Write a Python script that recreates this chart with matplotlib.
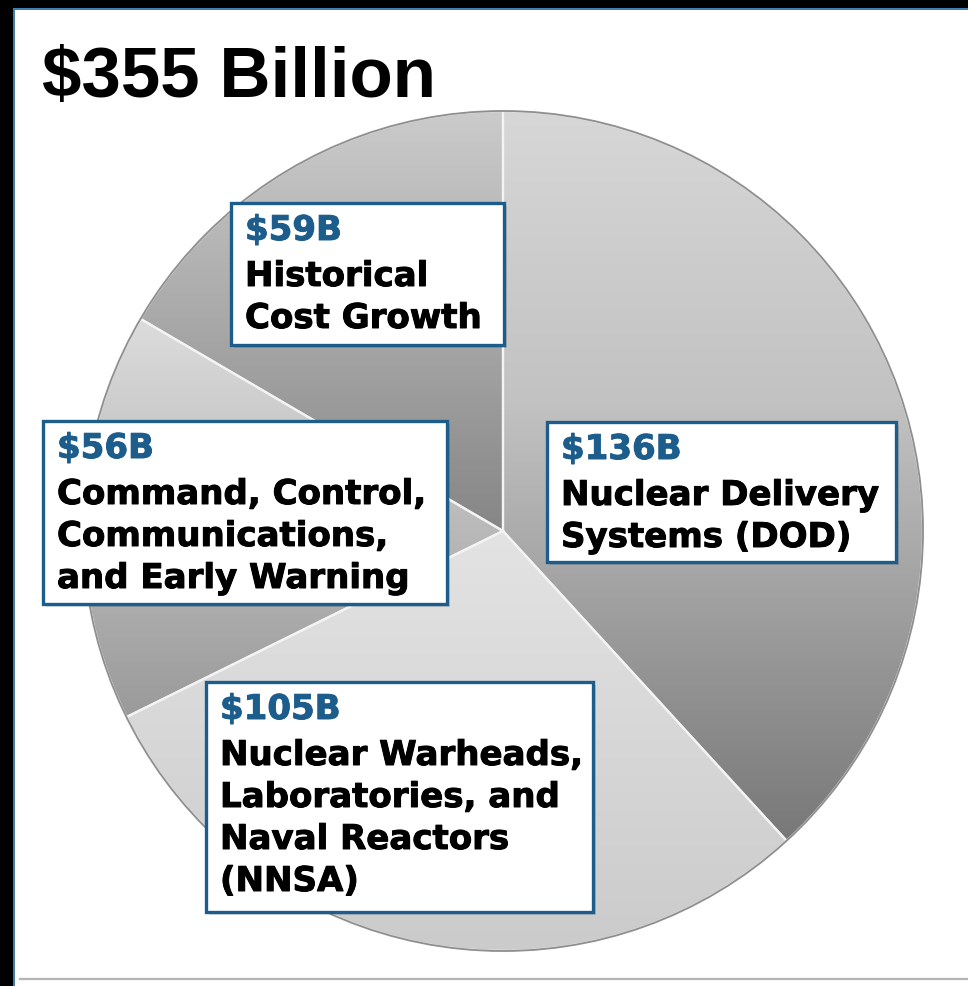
import numpy as np
import matplotlib
matplotlib.use('Agg')
import matplotlib.pyplot as plt
import matplotlib.patheffects as pe
from matplotlib.colors import LinearSegmentedColormap
from matplotlib.patches import Rectangle, Circle

W, H = 968, 987

# ---- data ----
title = "$355 Billion"
values = [136, 105, 56, 59]
value_labels = ["$136B", "$105B", "$56B", "$59B"]
category_labels = [
    ["Nuclear Delivery", "Systems (DOD)"],
    ["Nuclear Warheads,", "Laboratories, and", "Naval Reactors", "(NNSA)"],
    ["Command, Control,", "Communications,", "and Early Warning"],
    ["Historical", "Cost Growth"],
]

# ---- style ----
slice_gradients = [
    [(0.0, '#d7d7d7'), (0.4, '#c2c2c2'), (1.0, '#787878')],
    [(0.0, '#e3e3e3'), (1.0, '#cbcbcb')],
    [(0.0, '#dcdcdc'), (1.0, '#9a9a9a')],
    [(0.0, '#cbcbcb'), (1.0, '#868686')],
]
# label boxes in pixel coords (left, top, right, bottom)
boxes = [(547, 423, 896, 563), (206, 683, 593, 913),
         (43, 422, 447, 605), (231, 204, 504, 346)]
blue = '#1d5d8c'
pie_center = (503, H - 532)
pie_radius = 420

fig = plt.figure(figsize=(W / 100, H / 100), dpi=100)
fig.patch.set_facecolor('white')
ax = fig.add_axes([0, 0, 1, 1])

wedges, _ = ax.pie(values, startangle=90, counterclock=False,
                   center=pie_center, radius=pie_radius,
                   wedgeprops=dict(edgecolor='#f4f4f4', linewidth=1.6))

grad = np.linspace(0, 1, 256).reshape(-1, 1)
for w, stops in zip(wedges, slice_gradients):
    w.set_facecolor('none')
    w.set_zorder(1.5)
    bb = w.get_path().get_extents()
    cmap = LinearSegmentedColormap.from_list('g', stops)
    im = ax.imshow(grad, cmap=cmap, extent=(bb.x0, bb.x1, bb.y0, bb.y1),
                   origin='upper', aspect='auto', zorder=1,
                   interpolation='bilinear')
    im.set_clip_path(w)

ax.add_patch(Circle(pie_center, pie_radius, fill=False,
                    edgecolor='#8e8e8e', lw=1.3, zorder=2))

for (l, t, r, b), val, lines in zip(boxes, value_labels, category_labels):
    # faint shadow
    ax.add_patch(Rectangle((l + 3, H - b - 3), r - l, b - t, facecolor='#000000',
                           alpha=0.12, edgecolor='none', zorder=2.5))
    ax.add_patch(Rectangle((l, H - b), r - l, b - t, facecolor='white',
                           edgecolor=blue, lw=2.4, zorder=3))
    ax.text(l + 14, H - (t + 37), val, fontsize=24.5, fontweight='bold',
            family='DejaVu Sans', color=blue, va='baseline', ha='left', zorder=4,
            path_effects=[pe.withStroke(linewidth=0.7, foreground=blue)])
    for i, line in enumerate(lines):
        ax.text(l + 14, H - (t + 37 + 46 + 42 * i), line, fontsize=24.5,
                fontweight='bold', family='DejaVu Sans', color='black',
                va='baseline', ha='left', zorder=4,
                path_effects=[pe.withStroke(linewidth=0.7, foreground='black')])

ax.text(42, H - 97, title, fontsize=51, fontweight='bold',
        family='Liberation Sans', color='black', va='baseline', ha='left', zorder=4)

# frame
ax.add_patch(Rectangle((0, 0), 12.5, H, facecolor='black', edgecolor='none', zorder=6))
ax.add_patch(Rectangle((0, H - 9), W, 9, facecolor='black', edgecolor='none', zorder=6))
ax.add_patch(Rectangle((12.5, 0), 2, H - 9, facecolor='#3f7fae', edgecolor='none', zorder=6))
ax.add_patch(Rectangle((12.5, H - 11), W, 2, facecolor='#3f7fae', edgecolor='none', zorder=6))
ax.plot([20, W], [H - 980, H - 980], color='#b4b4b4', lw=1.6, zorder=5)

ax.set_xlim(0, W)
ax.set_ylim(0, H)
ax.set_aspect('auto')
ax.axis('off')

fig.savefig('out.png', dpi=100)
